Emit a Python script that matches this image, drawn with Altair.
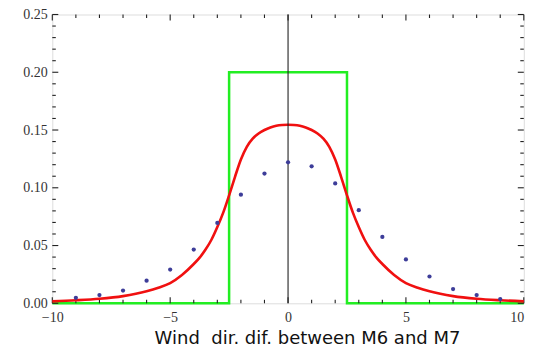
import altair as alt
import pandas as pd

# ---- data ----
red_x = [-10, -9, -8, -7, -6, -5.5, -5, -4.5, -4, -3.75, -3.5, -3.25, -3, -2.75, -2.5, -2.25, -2,
         -1.75, -1.5, -1.25, -1, -0.75, -0.5, -0.25, 0, 0.25, 0.5, 0.75, 1, 1.25, 1.5, 1.75, 2,
         2.25, 2.5, 2.75, 3, 3.25, 3.5, 3.75, 4, 4.5, 5, 5.5, 6, 7, 8, 9, 10]
red_y = [0.0017, 0.0026, 0.0039, 0.0062, 0.0104, 0.0135, 0.0175, 0.0245, 0.034, 0.0395, 0.0465,
         0.055, 0.066, 0.0785, 0.0935, 0.1095, 0.1245, 0.1355, 0.1425, 0.147, 0.150, 0.1522,
         0.1537, 0.1544, 0.1546, 0.1544, 0.1537, 0.1522, 0.150, 0.147, 0.1425, 0.1355, 0.1245,
         0.1095, 0.0935, 0.0785, 0.066, 0.055, 0.0465, 0.0395, 0.034, 0.0245, 0.0175, 0.0135,
         0.0104, 0.0062, 0.0039, 0.0026, 0.0017]

green_x = [-10, -2.5, -2.5, 2.5, 2.5, 10]
green_y = [0, 0, 0.2, 0.2, 0, 0]

dot_x = [-9, -8, -7, -6, -5, -4, -3, -2, -1, 0, 1, 2, 3, 4, 5, 6, 7, 8, 9]
dot_y = [0.0048, 0.0071, 0.011, 0.0196, 0.0292, 0.0465, 0.0696, 0.094, 0.1123, 0.122,
         0.1186, 0.1038, 0.0806, 0.0575, 0.038, 0.0232, 0.0123, 0.0071, 0.0037]

x_major = [-10, -5, 0, 5, 10]
x_minor = [-9, -8, -7, -6, -4, -3, -2, -1, 1, 2, 3, 4, 6, 7, 8, 9]
y_major = [0.0, 0.05, 0.10, 0.15, 0.20, 0.25]
y_minor = [0.01, 0.02, 0.03, 0.04, 0.06, 0.07, 0.08, 0.09, 0.11, 0.12, 0.13, 0.14,
           0.16, 0.17, 0.18, 0.19, 0.21, 0.22, 0.23, 0.24]

x_title = "Wind\u00a0 dir. dif. between M6 and M7"

W, H = 471.5, 288.8
MAJ, MIN = 6, 3.5

xs = alt.Scale(domain=[-10, 10], nice=False, zero=False)
ys = alt.Scale(domain=[0, 0.25], nice=False, zero=False)

label_font = "Liberation Serif"

x_axis = alt.Axis(
    values=x_major, ticks=False, domain=False, grid=False, labelPadding=7,
    labelFont=label_font, labelFontSize=14, labelColor="#333",
    labelAlign={"condition": {"test": "datum.value == 10", "value": "right"}, "value": "center"},
    title=x_title, titleFont="DejaVu Sans", titleFontSize=18, titleFontWeight="normal",
    titleColor="#111", titleX=254.7, titleY=40.7, titleAlign="center",
    titleBaseline="alphabetic", labelFlush=False)
y_axis = alt.Axis(
    values=y_major, format=".2f", ticks=False, domain=False, grid=False, labelPadding=5,
    labelFont=label_font, labelFontSize=14, labelColor="#333", title=None,
    labelFlush=False)

red_df = pd.DataFrame({"x": red_x, "y": red_y, "o": range(len(red_x))})
green_df = pd.DataFrame({"x": green_x, "y": green_y, "o": range(len(green_x))})
dot_df = pd.DataFrame({"x": dot_x, "y": dot_y})


def X(f):
    return alt.X(f, scale=xs, axis=x_axis)


def Y(f):
    return alt.Y(f, scale=ys, axis=y_axis)


green = alt.Chart(green_df).mark_line(color="#22ee22", strokeWidth=2.5).encode(
    x=X("x:Q"), y=Y("y:Q"), order="o:Q")

red = alt.Chart(red_df).mark_line(color="#f01010", strokeWidth=2.6, interpolate="monotone").encode(
    x=X("x:Q"), y=Y("y:Q"), order="o:Q")

zero_line = alt.Chart(pd.DataFrame({"x": [0]})).mark_rule(color="#222", strokeWidth=1.1).encode(
    x=X("x:Q"))

dots = alt.Chart(dot_df).mark_circle(color="#3d3d99", size=18, opacity=1).encode(
    x=X("x:Q"), y=Y("y:Q"))


def xticks(vals, length, top):
    df = pd.DataFrame({"t": vals})
    if top:
        y1, y2 = alt.value(0), alt.value(length)
    else:
        y1, y2 = alt.value(H), alt.value(H - length)
    return alt.Chart(df).mark_rule(color="#222", strokeWidth=1.1).encode(
        x=X("t:Q"), y=y1, y2=y2)


def yticks(vals, length, right):
    df = pd.DataFrame({"t": vals})
    if right:
        x1, x2 = alt.value(W), alt.value(W - length)
    else:
        x1, x2 = alt.value(0), alt.value(length)
    return alt.Chart(df).mark_rule(color="#222", strokeWidth=1.1).encode(
        y=Y("t:Q"), x=x1, x2=x2)


ticks = [
    xticks(x_major, MAJ, False), xticks(x_minor, MIN, False),
    xticks(x_major, MAJ, True), xticks(x_minor, MIN, True),
    yticks(y_major, MAJ, False), yticks(y_minor, MIN, False),
    yticks(y_major, MAJ, True), yticks(y_minor, MIN, True),
]

chart = alt.layer(green, *ticks, red, zero_line, dots).properties(
    width=W, height=H,
    autosize=alt.AutoSizeParams(type="none"),
    padding={"left": 44.3, "top": 6.5, "right": 1, "bottom": 44.7},
).configure_view(stroke="#222", strokeWidth=1.5).configure(background="white")

chart.save("out.html", embed_options={"renderer": "svg", "actions": False})
